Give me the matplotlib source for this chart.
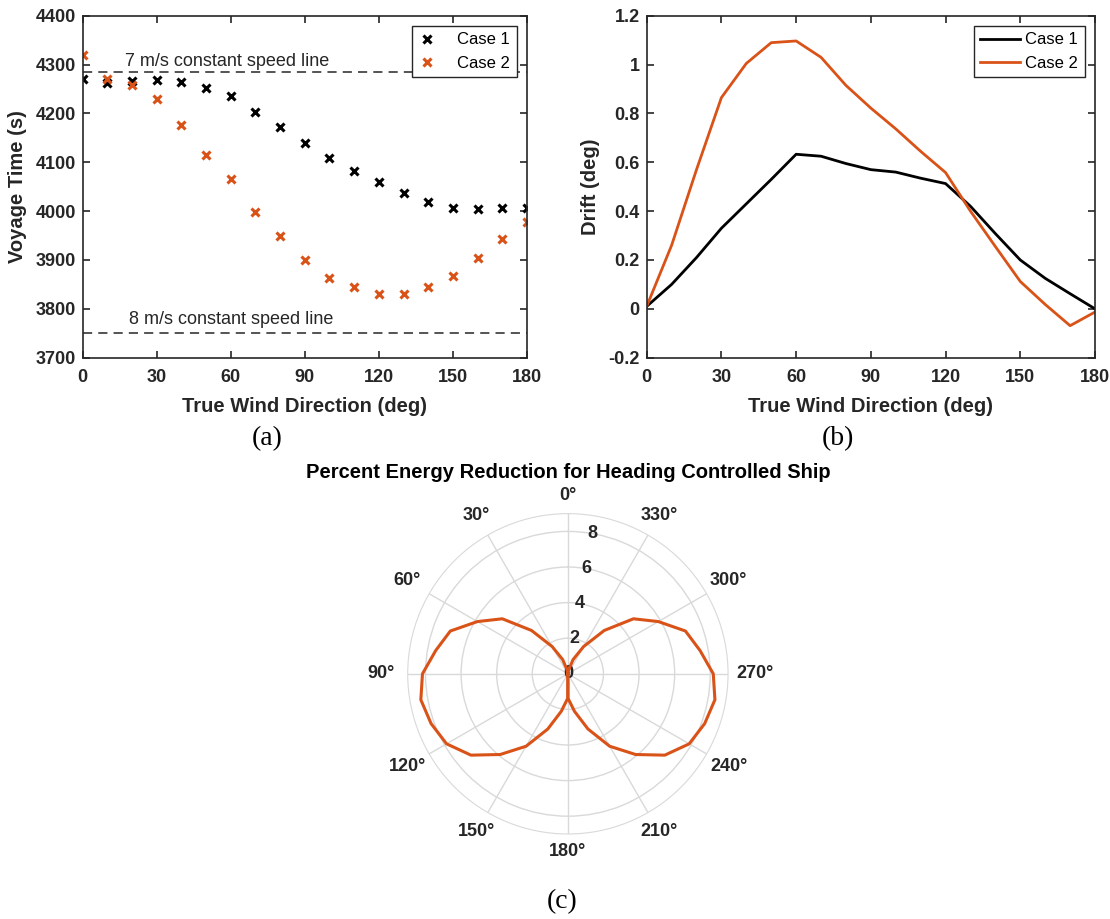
import numpy as np
import matplotlib
matplotlib.use('Agg')
import matplotlib.pyplot as plt
from matplotlib.ticker import FuncFormatter

plt.rcParams['font.family'] = ['Liberation Sans', 'DejaVu Sans']
plt.rcParams['font.weight'] = 'bold'
plt.rcParams['axes.labelweight'] = 'bold'

# true wind direction (deg)
wind_dir = [0, 10, 20, 30, 40, 50, 60, 70, 80, 90, 100, 110, 120, 130, 140, 150, 160, 170, 180]

# voyage time (s)
voyage_case1 = [4270, 4263, 4267, 4268, 4265, 4253, 4236, 4204, 4172, 4140,
                4108, 4083, 4060, 4038, 4018, 4006, 4004, 4006, 4006]
voyage_case2 = [4320, 4271, 4259, 4229, 4177, 4116, 4065, 3998, 3949, 3900,
                3864, 3845, 3831, 3831, 3845, 3867, 3904, 3942, 3977]

# constant speed reference lines, 30 km course
course_length = 30000.0
speed_lines = [7, 8]

# drift angle (deg)
drift_case1 = [0.01, 0.10, 0.21, 0.33, 0.43, 0.53, 0.633, 0.625, 0.595, 0.57,
               0.56, 0.535, 0.513, 0.42, 0.308, 0.20, 0.125, 0.062, 0.0]
drift_case2 = [0.01, 0.26, 0.57, 0.865, 1.005, 1.09, 1.097, 1.03, 0.915, 0.822,
               0.737, 0.645, 0.558, 0.40, 0.255, 0.112, 0.018, -0.069, -0.013]

# percent energy reduction, heading controlled ship
energy_reduction = [0.0, 0.2, 0.85, 1.77, 3.18, 4.81, 5.87, 7.03, 7.54, 8.17,
                    8.39, 8.18, 7.87, 7.11, 5.92, 4.70, 3.30, 2.14, 1.36]
r_ticks = [0, 2, 4, 6, 8]
theta_ticks = [0, 30, 60, 90, 120, 150, 180, 210, 240, 270, 300, 330]

ORANGE = '#D95319'
DARK = '#262626'


def style_axes(ax):
    for sp in ax.spines.values():
        sp.set_color(DARK)
        sp.set_linewidth(1.2)
    ax.tick_params(direction='in', top=True, right=True, length=5, width=1.2,
                   labelsize=13, colors=DARK)
    ax.tick_params(axis='x', pad=8)
    ax.tick_params(axis='y', pad=5)
    ax.set_xlim(0, 180)
    ax.set_xticks([0, 30, 60, 90, 120, 150, 180])
    ax.set_xlabel('True Wind Direction (deg)', fontsize=14.5, color=DARK, labelpad=8)


fig = plt.figure(figsize=(11.1, 9.19), dpi=100)

# (a) voyage time
ax_a = fig.add_axes([0.0744, 0.6108, 0.4004, 0.3720])
ax_a.plot(wind_dir, voyage_case1, 'x', color='black', ms=5.5, mew=2.2, label='Case 1')
ax_a.plot(wind_dir, voyage_case2, 'x', color=ORANGE, ms=5.5, mew=2.2, label='Case 2')
for v in speed_lines:
    ax_a.axhline(course_length / v, color=DARK, lw=1.1, ls=(0, (6, 4)))
ax_a.text(17.0, 4297, '7 m/s constant speed line', fontsize=13, fontweight='normal', color=DARK)
ax_a.text(18.9, 3768, '8 m/s constant speed line', fontsize=13, fontweight='normal', color=DARK)
ax_a.set_ylim(3700, 4400)
ax_a.set_yticks(np.arange(3700, 4401, 100))
ax_a.set_ylabel('Voyage Time (s)', fontsize=14.5, color=DARK, labelpad=6)
style_axes(ax_a)
leg = ax_a.legend(loc='upper right', prop={'weight': 'normal', 'size': 12},
                  fancybox=False, edgecolor=DARK, handlelength=1.0, handletextpad=1.3,
                  borderaxespad=0.6, framealpha=1)
leg.get_frame().set_linewidth(1.0)

# (b) drift
ax_b = fig.add_axes([0.5826, 0.6108, 0.4039, 0.3720])
ax_b.plot(wind_dir, drift_case1, color='black', lw=2, label='Case 1')
ax_b.plot(wind_dir, drift_case2, color=ORANGE, lw=2, label='Case 2')
ax_b.set_ylim(-0.2, 1.2)
ax_b.set_yticks(np.arange(-0.2, 1.21, 0.2))
ax_b.yaxis.set_major_formatter(FuncFormatter(lambda v, p: '%g' % round(v, 2)))
ax_b.set_ylabel('Drift (deg)', fontsize=14.5, color=DARK, labelpad=6)
style_axes(ax_b)
leg = ax_b.legend(loc='upper right', prop={'weight': 'normal', 'size': 12},
                  fancybox=False, edgecolor=DARK, handlelength=2.4, handletextpad=0.3,
                  borderaxespad=0.6, framealpha=1)
leg.get_frame().set_linewidth(1.0)

# (c) polar energy reduction, mirrored for port/starboard winds
ax_c = fig.add_axes([0.3673, 0.0925, 0.2886, 0.3486], projection='polar')
ax_c.set_theta_zero_location('N')
ax_c.set_theta_direction(1)
theta = np.deg2rad(wind_dir)
r = np.array(energy_reduction)
for th in (theta, 2 * np.pi - theta):
    ax_c.plot(np.append(th, th[0]), np.append(r, r[0]), color=ORANGE, lw=2.2, zorder=3)
ax_c.set_rlim(0, 9)
ax_c.set_rticks(r_ticks)
ax_c.set_yticklabels([])
for rt in r_ticks:
    ax_c.text(np.deg2rad(350), rt, str(rt), ha='center', va='center',
              fontsize=13, color=DARK, zorder=2)
ax_c.set_thetagrids(theta_ticks, [''] * len(theta_ticks))
# angle labels sit just outside the rim, a bit further out at the sides
for a in theta_ticks:
    t = np.deg2rad(a)
    ax_c.text(t, 10.0 + 0.5 * abs(np.sin(t)), '%d°' % a, ha='center', va='center',
              fontsize=13, color=DARK)
ax_c.grid(color='#d9d9d9', lw=1)
ax_c.spines['polar'].set_color('#d9d9d9')
ax_c.set_title('Percent Energy Reduction for Heading Controlled Ship',
               fontsize=14.5, fontweight='bold', color='black', pad=26)

# panel letters
for x, y, s in [(0.2405, 0.5223, '(a)'), (0.755, 0.5223, '(b)'), (0.506, 0.0185, '(c)')]:
    fig.text(x, y, s, ha='center', va='center', fontsize=20,
             fontweight='normal', family='Liberation Serif')

fig.savefig('out.png', dpi=100)
